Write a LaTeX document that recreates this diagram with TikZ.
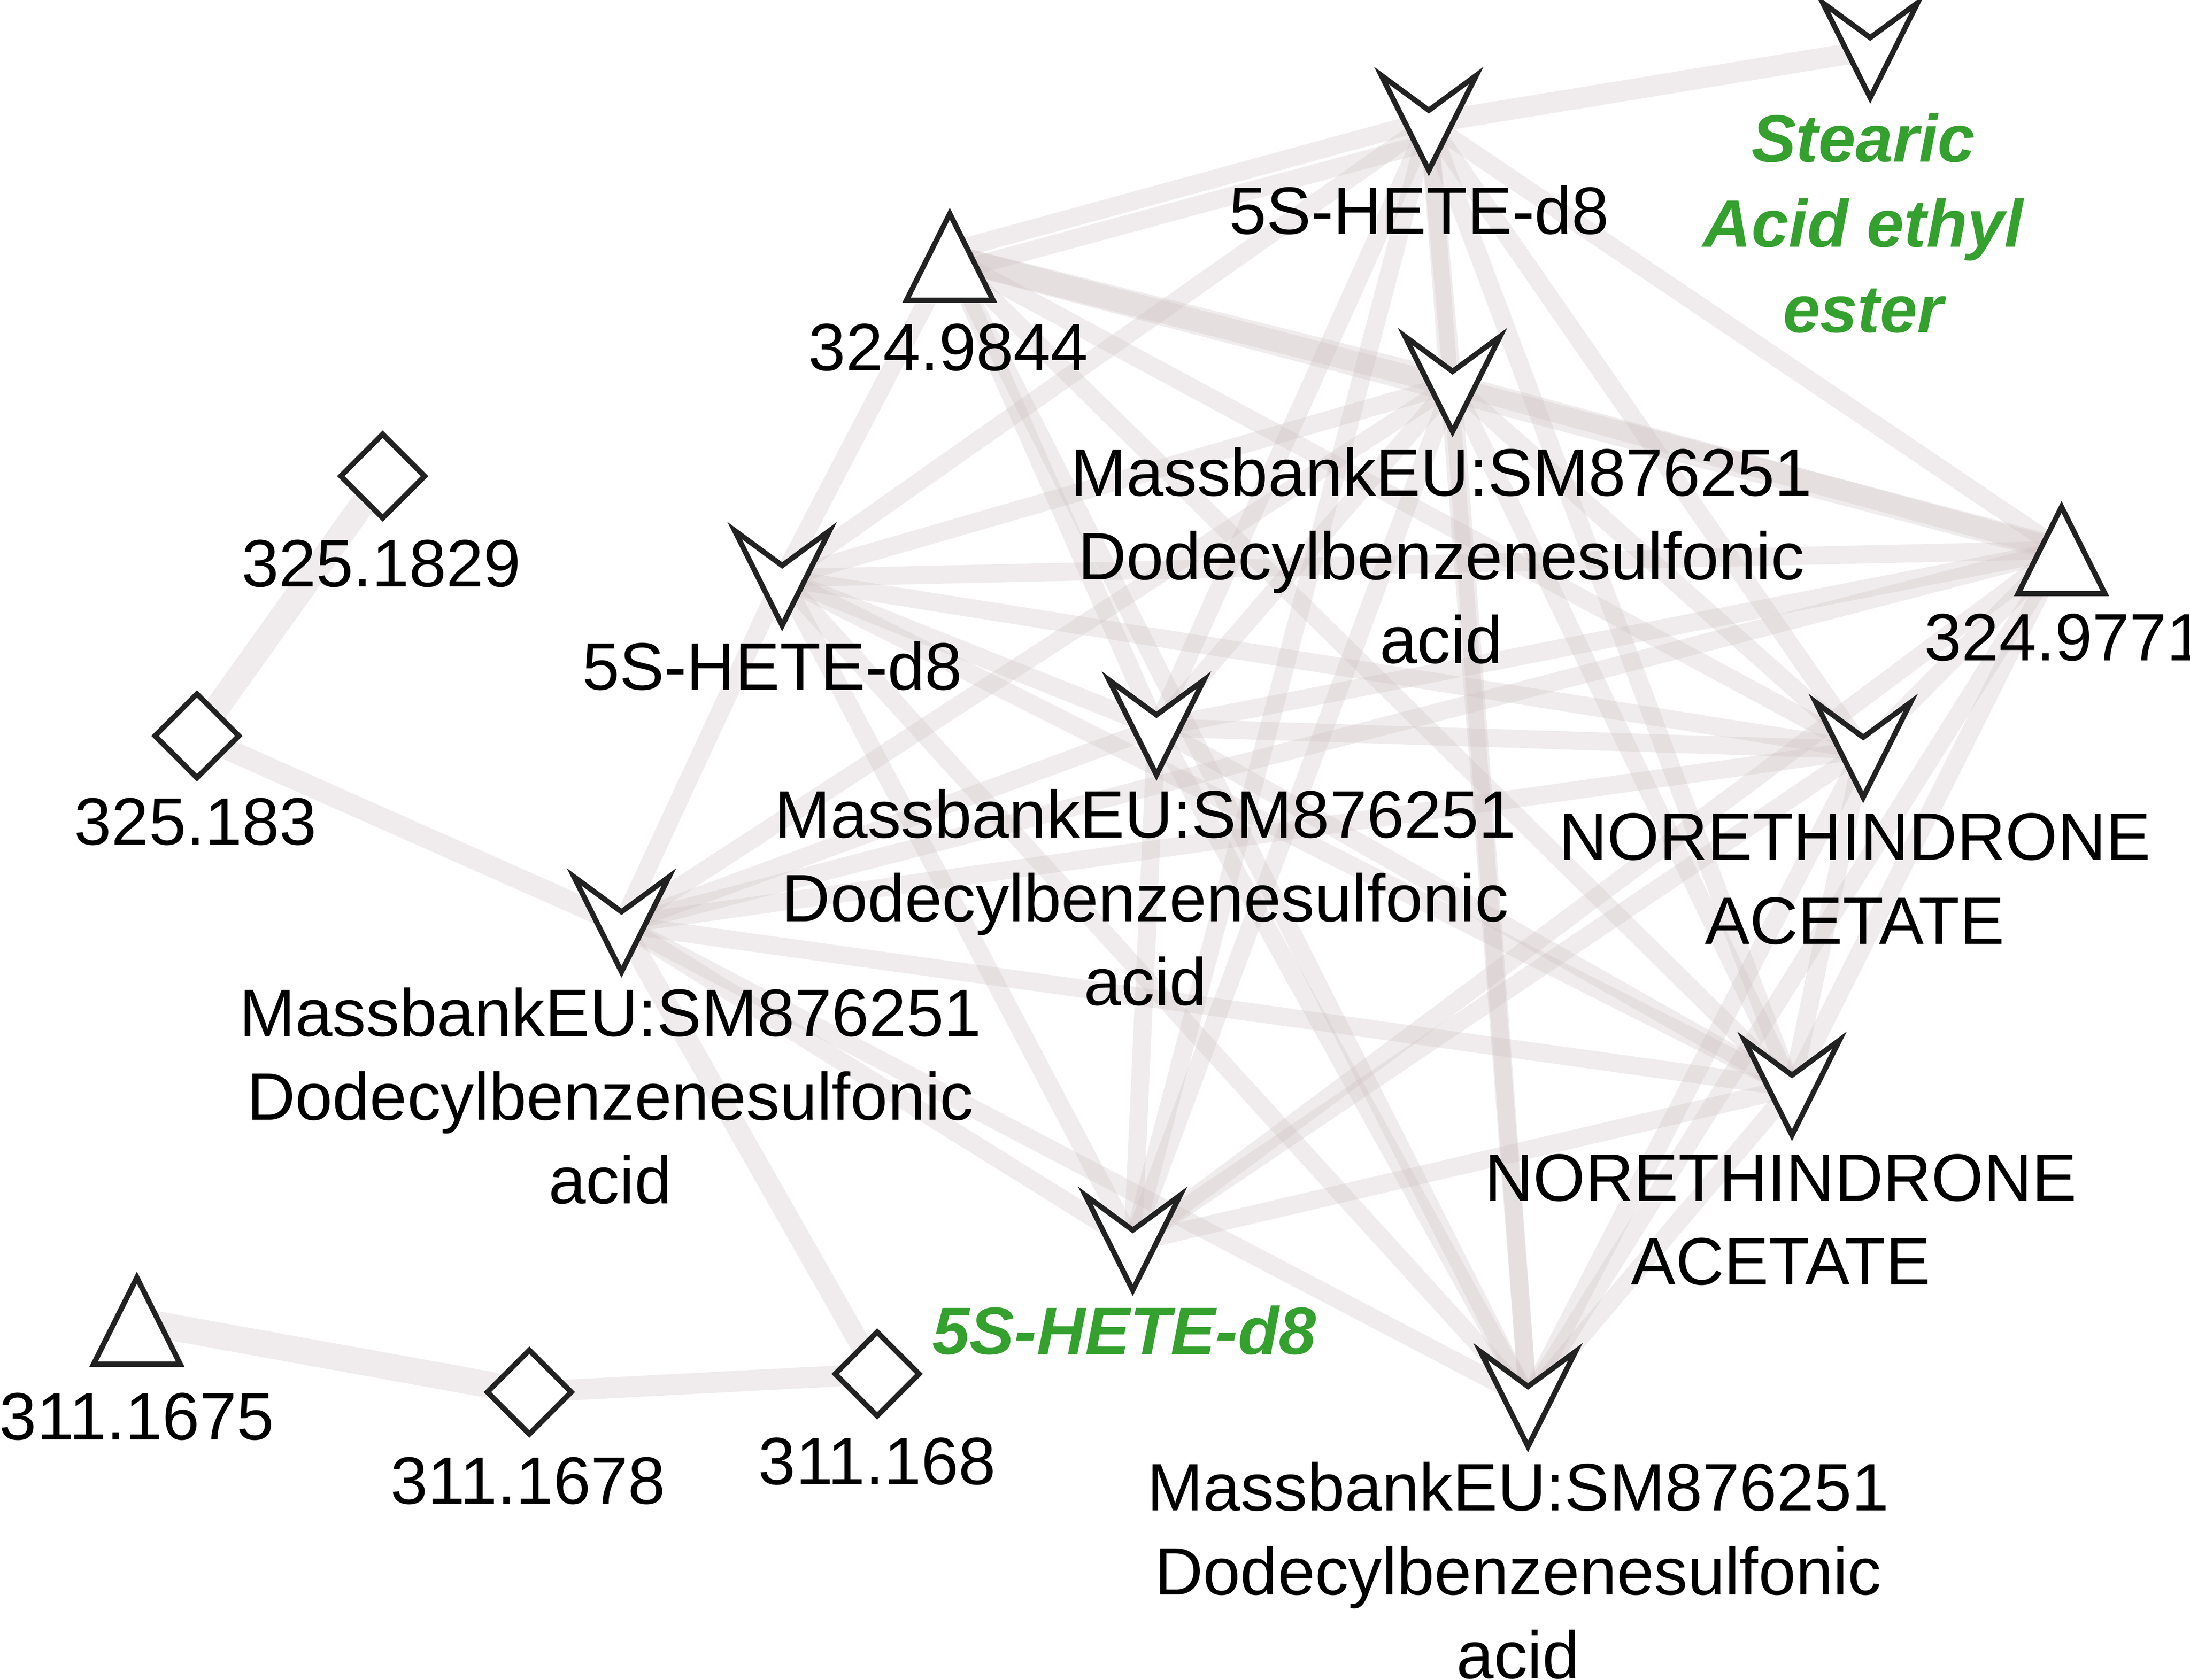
\documentclass[tikz,border=0pt]{standalone}
\usepackage{fontspec}
\setmainfont{Liberation Sans}
\definecolor{edgec}{RGB}{205,192,195}
\definecolor{grn}{RGB}{52,160,46}
\definecolor{lav}{RGB}{204,204,255}
\definecolor{outl}{RGB}{34,34,34}
\begin{document}
\begin{tikzpicture}[x=0.5pt,y=-0.5pt,
 lnk/.style={draw=edgec, draw opacity=0.3, line width=6.5pt, line cap=round},
 lnkthick/.style={lnk, line width=9pt},
 lnkmid/.style={lnk, line width=7.5pt},
 shapeline/.style={draw=outl, line width=1.9pt, fill=white, line join=miter},
 lbl/.style={font=\fontsize{24}{30}\selectfont, align=center, inner sep=0pt, anchor=base},
 glbl/.style={lbl, text=grn, font=\fontsize{24}{30.5}\selectfont\bfseries\itshape},
 vee/.pic={\path[shapeline,pic actions] (-34,-34) -- (0,-9) -- (34,-34) -- (0,34) -- cycle;},
 tri/.pic={\path[shapeline,pic actions] (0,-31) -- (31,31) -- (-31,31) -- cycle;},
 dia/.pic={\path[shapeline,pic actions] (0,-30) -- (30,0) -- (0,30) -- (-30,0) -- cycle;},
]
\useasboundingbox (0,0) rectangle (1568,1203);
% node centres
\coordinate (A) at (1339,36);
\coordinate (B) at (1023,88);
\coordinate (C) at (680,184);
\coordinate (D) at (1040,275);
\coordinate (E) at (560,414);
\coordinate (F) at (1476,394);
\coordinate (G) at (828,521);
\coordinate (H) at (1334,537);
\coordinate (I) at (445,662);
\coordinate (J) at (1283,779);
\coordinate (K) at (811,890);
\coordinate (L) at (628,984);
\coordinate (M) at (1094,1002);
\coordinate (P) at (274,341);
\coordinate (Q) at (141,527);
\coordinate (R) at (98,946);
\coordinate (S) at (379,997);
% connectors
\draw[lnkthick] (P) -- (Q);
\draw[lnkthick, line width=9.5pt] (R) -- (S);
\draw[lnkmid] (Q) -- (I);
\draw[lnkmid] (S) -- (L);
\draw[lnkmid] (L) -- (I);
\draw[lnkmid] (B) -- (A);
\draw[lnkthick] (C) -- (F);
\draw[lnkthick] (C) -- (D);
\draw[lnk] ([yshift=2pt]C) -- ([yshift=1pt]B);
\draw[lnk] ([yshift=-5.5pt]C) -- ([yshift=-7pt]B);
\draw[lnkmid] (D) -- (F);
\foreach \u/\v in {B/D,B/E,B/F,B/G,B/H,B/J,B/K,B/M,
  C/E,C/G,C/H,C/J,C/M,
  D/E,D/G,D/H,D/I,D/J,D/K,D/M,
  E/F,E/G,E/H,E/I,E/J,E/K,E/M,
  F/G,F/H,F/I,F/J,F/K,F/M,
  G/H,G/I,G/J,G/K,G/M,
  H/I,H/J,H/K,H/M,
  I/J,I/K,I/M,
  J/K,J/M}
  \draw[lnk] (\u) -- (\v);
% node shapes
\pic at (A) {vee};
\pic at (B) {vee};
\pic at (C) {tri};
\pic at (D) {vee};
\pic at (E) {vee};
\pic at (F) {tri};
\pic at (G) {vee};
\pic at (H) {vee};
\pic at (I) {vee};
\pic at (J) {vee};
\pic[fill=lav] at (K) {vee};
\pic at (L) {dia};
\pic at (M) {vee};
\pic at (P) {dia};
\pic at (Q) {dia};
\pic at (R) {tri};
\pic at (S) {dia};
% labels (anchor = baseline of the last line)
\node[glbl] (Alab) at (1334,238) {Stearic\\Acid ethyl\\ester};
\node[lbl] (Blab) at (1016,167.5) {5S-HETE-d8};
\node[lbl] (Clab) at (679,265.5) {324.9844};
\node[lbl] (Dlab) at (1032,475) {MassbankEU:SM876251\\Dodecylbenzenesulfonic\\acid};
\node[lbl] (Elab) at (553,494) {5S-HETE-d8};
\node[lbl] (Flab) at (1478,473) {324.9771};
\node[lbl] (Glab) at (820,720) {MassbankEU:SM876251\\Dodecylbenzenesulfonic\\acid};
\node[lbl] (Hlab) at (1328,676) {NORETHINDRONE\\ACETATE};
\node[lbl] (Ilab) at (437,862) {MassbankEU:SM876251\\Dodecylbenzenesulfonic\\acid};
\node[lbl] (Jlab) at (1275,920) {NORETHINDRONE\\ACETATE};
\node[glbl] (Klab) at (805,970) {5S-HETE-d8};
\node[lbl] (Llab) at (628,1063) {311.168};
\node[lbl] (Mlab) at (1087,1202) {MassbankEU:SM876251\\Dodecylbenzenesulfonic\\acid};
\node[lbl] (Plab) at (273,420) {325.1829};
\node[lbl] (Qlab) at (140,605) {325.183};
\node[lbl] (Rlab) at (98,1031) {311.1675};
\node[lbl] (Slab) at (378,1077) {311.1678};
\end{tikzpicture}
\end{document}
